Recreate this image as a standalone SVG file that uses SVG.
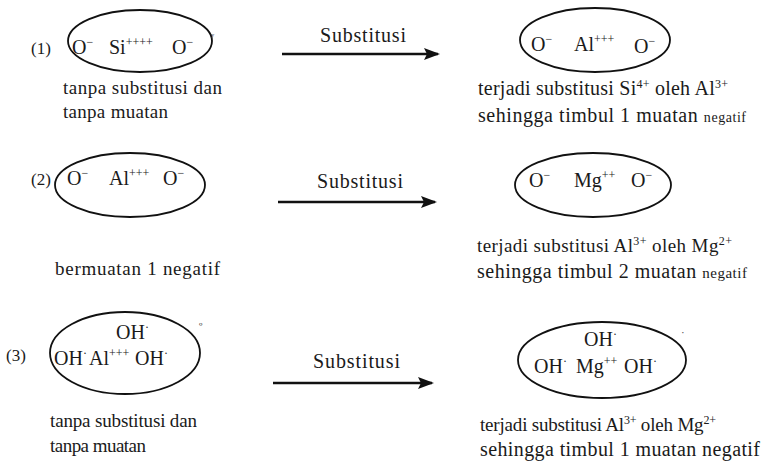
<svg xmlns="http://www.w3.org/2000/svg" width="763" height="470" viewBox="0 0 763 470">
<defs>
<style>
.bg{fill:#ffffff}
.ell{fill:none;stroke:#111;stroke-width:1.8}
.t{font-family:"Liberation Serif","DejaVu Serif",serif;fill:#1a1a1a}
.f{font-size:20px}
.c{font-size:19px}
.w{font-size:20px}
.n{font-size:17px}
.s{font-size:12px}
.arr{stroke:#111;stroke-width:2.4;fill:none}
.mk{font-family:"Liberation Serif",serif;font-size:11px;fill:#444}
</style>
<marker id="ah" markerWidth="16" markerHeight="12" refX="14" refY="6" orient="auto" markerUnits="userSpaceOnUse">
<path d="M0,0 L16,6 L0,12 L3,6 Z" fill="#111"/>
</marker>
</defs>
<rect class="bg" x="0" y="0" width="763" height="470"/>

<g id="row1-left">
<text class="t n" x="31" y="54">(1)</text>
<ellipse class="ell" cx="140" cy="41" rx="72" ry="31"/>
<text class="t f" x="72" y="54">O<tspan class="s" dy="-8">−</tspan></text>
<text class="t f" x="109" y="54">Si<tspan class="s" dy="-8">++++</tspan></text>
<text class="t f" x="172" y="54">O<tspan class="s" dy="-8">−</tspan></text>
<text class="mk" x="211" y="40">ʸ</text>
<text class="t c" x="63" y="94" textLength="159">tanpa substitusi dan</text>
<text class="t c" x="63" y="118" textLength="105">tanpa muatan</text>
</g>

<g id="row1-right">
<ellipse class="ell" cx="595" cy="40" rx="75" ry="32"/>
<text class="t f" x="531" y="51">O<tspan class="s" dy="-8">−</tspan></text>
<text class="t f" x="574" y="51">Al<tspan class="s" dy="-8">+++</tspan></text>
<text class="t f" x="634" y="53">O<tspan class="s" dy="-8">−</tspan></text>
<text class="t w" x="478" y="95" textLength="250">terjadi substitusi Si<tspan class="s" dy="-7">4+</tspan><tspan dy="7"> oleh Al</tspan><tspan class="s" dy="-7">3+</tspan></text>
<text class="t w" x="478" y="122" textLength="268">sehingga timbul 1 muatan <tspan font-size="14">negatif</tspan></text>
</g>

<g id="row2-left">
<text class="t n" x="31" y="185">(2)</text>
<ellipse class="ell" cx="130" cy="185" rx="75" ry="32"/>
<text class="t f" x="67" y="185">O<tspan class="s" dy="-8">−</tspan></text>
<text class="t f" x="109" y="185">Al<tspan class="s" dy="-8">+++</tspan></text>
<text class="t f" x="163" y="185">O<tspan class="s" dy="-8">−</tspan></text>
<text class="t c" x="55" y="275" textLength="165">bermuatan 1 negatif</text>
</g>

<g id="row2-right">
<ellipse class="ell" cx="593" cy="185" rx="78" ry="32"/>
<text class="t f" x="529" y="187">O<tspan class="s" dy="-8">−</tspan></text>
<text class="t f" x="574" y="187">Mg<tspan class="s" dy="-8">++</tspan></text>
<text class="t f" x="631" y="187">O<tspan class="s" dy="-8">−</tspan></text>
<text class="t c" x="477" y="252" textLength="255">terjadi substitusi Al<tspan class="s" dy="-7">3+</tspan><tspan dy="7"> oleh Mg</tspan><tspan class="s" dy="-7">2+</tspan></text>
<text class="t w" x="477" y="278" textLength="270">sehingga timbul 2 muatan <tspan font-size="15">negatif</tspan></text>
</g>

<g id="row3-left">
<text class="t n" x="6" y="361">(3)</text>
<ellipse class="ell" cx="125" cy="353" rx="75" ry="41"/>
<text class="t f" x="116" y="339">OH<tspan class="s" dy="-8">·</tspan></text>
<text class="t f" x="54" y="365">OH<tspan class="s" dy="-8">·</tspan></text>
<text class="t f" x="89" y="365">Al<tspan class="s" dy="-8">+++</tspan></text>
<text class="t f" x="135" y="365">OH<tspan class="s" dy="-8">·</tspan></text>
<text class="mk" x="199" y="330">º</text>
<text class="t c" x="50" y="427" textLength="147">tanpa substitusi dan</text>
<text class="t c" x="50" y="452" textLength="96">tanpa muatan</text>
</g>

<g id="row3-right">
<ellipse class="ell" cx="602" cy="360" rx="84" ry="38"/>
<text class="t f" x="584" y="346">OH<tspan class="s" dy="-8">·</tspan></text>
<text class="t f" x="534" y="373">OH<tspan class="s" dy="-8">·</tspan></text>
<text class="t f" x="576" y="373">Mg<tspan class="s" dy="-8">++</tspan></text>
<text class="t f" x="624" y="373">OH<tspan class="s" dy="-8">·</tspan></text>
<text class="mk" x="681" y="336">·</text>
<text class="t c" x="480" y="431" textLength="236">terjadi substitusi Al<tspan class="s" dy="-7">3+</tspan><tspan dy="7"> oleh Mg</tspan><tspan class="s" dy="-7">2+</tspan></text>
<text class="t w" x="480" y="456" textLength="280">sehingga timbul 1 muatan negatif</text>
</g>

<g id="connectors">
<line class="arr" x1="282" y1="54" x2="438" y2="54" marker-end="url(#ah)"/>
<text class="t w" x="320" y="42" textLength="86">Substitusi</text>
<line class="arr" x1="278" y1="202" x2="435" y2="202" marker-end="url(#ah)"/>
<text class="t w" x="317" y="188" textLength="86">Substitusi</text>
<line class="arr" x1="273" y1="383" x2="432" y2="383" marker-end="url(#ah)"/>
<text class="t w" x="313" y="368" textLength="87">Substitusi</text>
</g>
</svg>
